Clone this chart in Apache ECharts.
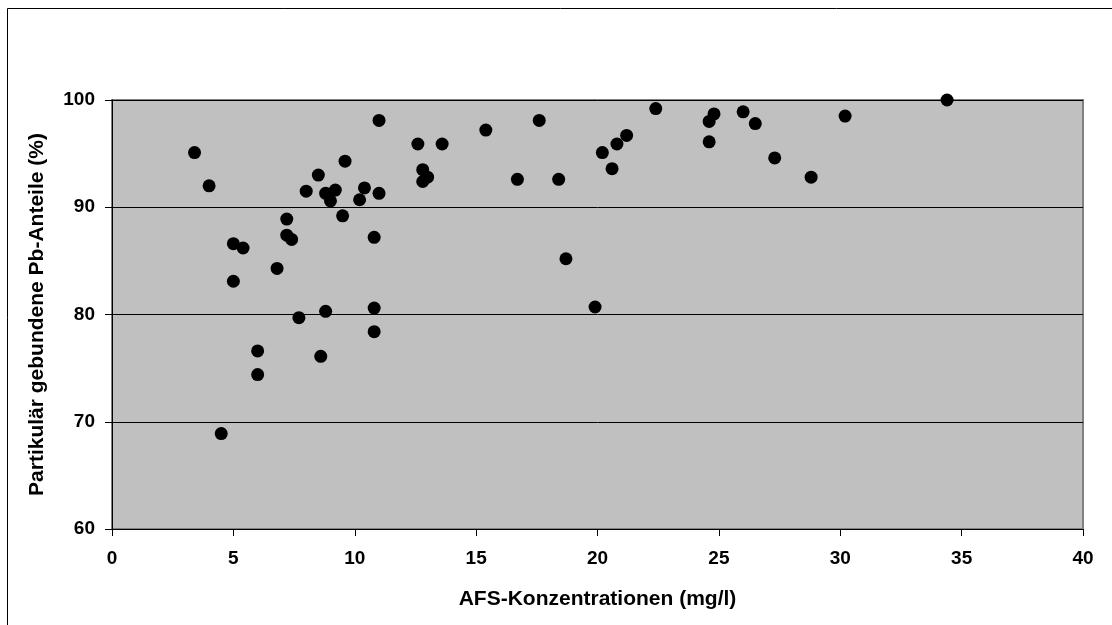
<!DOCTYPE html>
<html>
<head>
<meta charset="utf-8">
<style>
  html, body { margin: 0; padding: 0; background: #fff; }
  #chart { width: 1112px; height: 625px; }
</style>
<script src="https://cdn.jsdelivr.net/npm/echarts@6/dist/echarts.min.js"></script>
</head>
<body>
<div id="chart"></div>
<script>
// AFS concentration (mg/l) of each sample
const afs = [
  3.4, 4.0, 5.0, 5.4, 5.0, 4.5, 6.0, 6.0, 6.8, 7.2,
  7.2, 7.4, 7.7, 8.0, 8.5, 8.8, 9.2, 9.0, 9.6, 9.5,
  8.8, 8.6, 10.4, 10.2, 11.0, 11.0, 10.8, 10.8, 10.8, 12.6,
  13.6, 12.8, 13.0, 12.8, 15.4, 16.7, 17.6, 18.4, 18.7, 19.9,
  20.2, 20.8, 21.2, 20.6, 22.4, 24.6, 24.8, 24.6, 26.0, 26.5,
  27.3, 28.8, 30.2, 34.4
];
// particle-bound Pb share (%) of the same samples
const pbShare = [
  95.1, 92.0, 86.6, 86.2, 83.1, 68.9, 76.6, 74.4, 84.3, 88.9,
  87.4, 87.0, 79.7, 91.5, 93.0, 91.3, 91.6, 90.6, 94.3, 89.2,
  80.3, 76.1, 91.8, 90.7, 91.3, 98.1, 87.2, 80.6, 78.4, 95.9,
  95.9, 93.5, 92.8, 92.4, 97.2, 92.6, 98.1, 92.6, 85.2, 80.7,
  95.1, 95.9, 96.7, 93.6, 99.2, 98.0, 98.7, 96.1, 98.9, 97.8,
  94.6, 92.8, 98.5, 100.0
];

const xTitle = 'AFS-Konzentrationen (mg/l)';
const yTitle = 'Partikulär gebundene Pb-Anteile (%)';

const points = afs.map((x, i) => [x, pbShare[i]]);

const font = 'Liberation Sans, Arial, sans-serif';
const chart = echarts.init(document.getElementById('chart'), null, { renderer: 'canvas' });

chart.setOption({
  backgroundColor: '#ffffff',
  animation: false,
  graphic: [{
    // outer chart frame
    type: 'rect',
    shape: { x: 7.5, y: 8.5, width: 1200, height: 700 },
    style: { fill: 'none', stroke: '#000', lineWidth: 1 },
    z: -1
  }],
  grid: {
    left: 112, top: 100, right: 29, bottom: 96,
    show: true,
    backgroundColor: '#c0c0c0',
    borderColor: '#808080',
    borderWidth: 2
  },
  xAxis: {
    type: 'value',
    min: 0, max: 40, interval: 5,
    name: xTitle,
    nameLocation: 'middle',
    nameGap: 60,
    nameTextStyle: { fontFamily: font, fontWeight: 'bold', fontSize: 21, color: '#000' },
    axisLine: { show: true, onZero: false, lineStyle: { color: '#000', width: 1 } },
    axisTick: { show: true, inside: false, length: 7, lineStyle: { color: '#000' } },
    axisLabel: { fontFamily: font, fontWeight: 'bold', fontSize: 19, color: '#000', margin: 20 },
    splitLine: { show: false }
  },
  yAxis: {
    type: 'value',
    min: 60, max: 100, interval: 10,
    name: yTitle,
    nameLocation: 'middle',
    nameGap: 64,
    nameRotate: 90,
    nameTextStyle: { fontFamily: font, fontWeight: 'bold', fontSize: 21, color: '#000' },
    axisLine: { show: true, onZero: false, lineStyle: { color: '#000', width: 1 } },
    axisTick: { show: true, inside: false, length: 7, lineStyle: { color: '#000' } },
    axisLabel: { fontFamily: font, fontWeight: 'bold', fontSize: 19, color: '#000', margin: 17 },
    splitLine: { show: true, lineStyle: { color: '#000', width: 1 } }
  },
  series: [{
    type: 'scatter',
    data: points,
    symbol: 'circle',
    symbolSize: 13,
    itemStyle: { color: '#000', opacity: 1 },
    clip: false
  }]
});
</script>
</body>
</html>
